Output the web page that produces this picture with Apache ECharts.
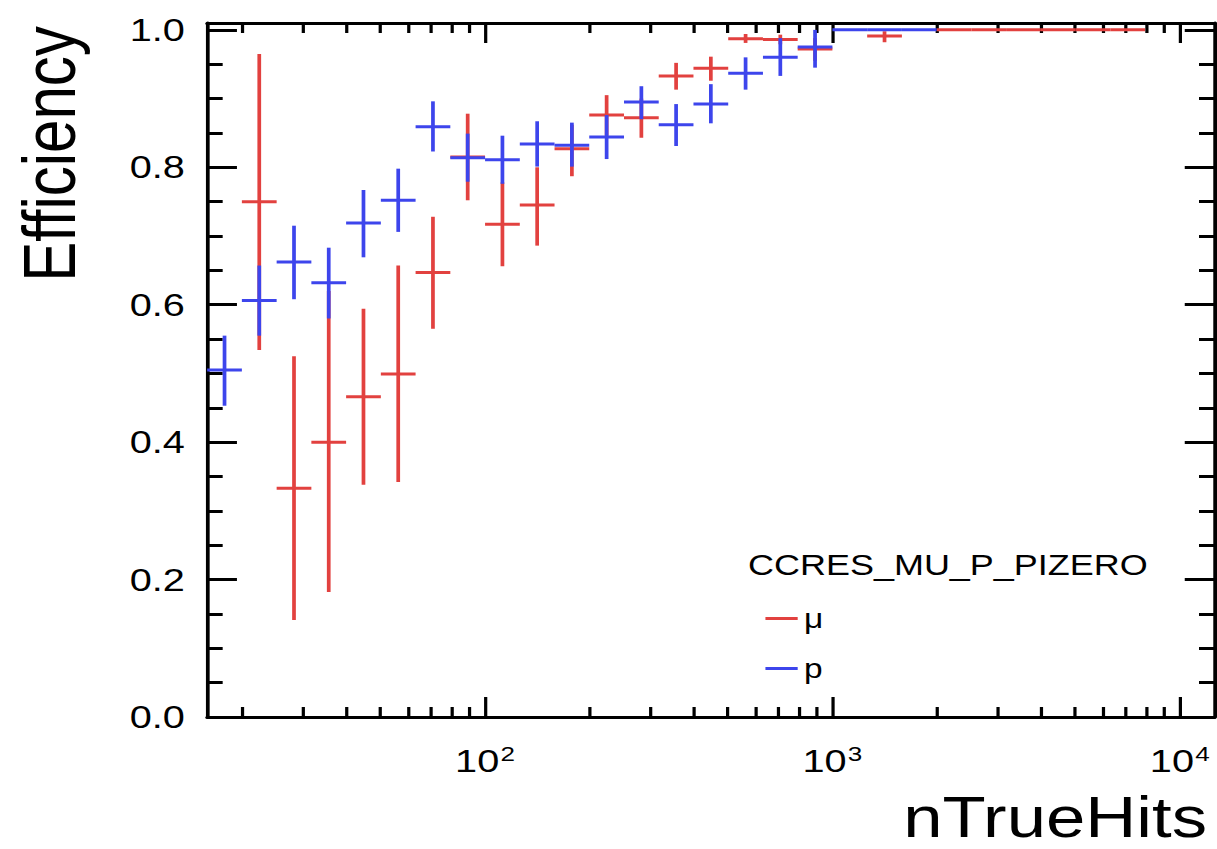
<!DOCTYPE html>
<html>
<head>
<meta charset="utf-8">
<script src="https://cdn.jsdelivr.net/npm/echarts@6/dist/echarts.min.js"></script>
<style>
  html, body { margin: 0; padding: 0; background: #ffffff; overflow: hidden; }
  #chart { width: 981px; height: 849px; transform: scaleX(1.24057); transform-origin: 0 0; }
</style>
</head>
<body>
<div id="chart"></div>
<script>
// ---- data ----
// log-spaced bin edges in nTrueHits
const binEdges = [15.85, 19.95, 25.12, 31.62, 39.81, 50.12, 63.10, 79.43, 100.0, 125.9, 158.5,
                  199.5, 251.2, 316.2, 398.1, 501.2, 631.0, 794.3, 1000, 1259, 1585, 1995, 2512,
                  3162, 3981, 5012, 6310, 7943];
// muon efficiency per bin, with lower / upper error bar ends
const muEff = [null, 0.750, 0.333, 0.400, 0.466, 0.499, 0.647, 0.815, 0.717, 0.745, 0.827, 0.876, 0.872,
               0.933, 0.944, 0.987, 0.986, 0.972, null, 0.991, null, 1.0, 1.0, 1.0, 1.0, 1.0, 1.0];
const muLow = [null, 0.534, 0.141, 0.182, 0.338, 0.342, 0.565, 0.752, 0.656, 0.686, 0.787, 0.846, 0.843,
               0.913, 0.926, 0.981, 0.979, 0.955, null, 0.982, null, 1.0, 1.0, 1.0, 1.0, 1.0, 1.0];
const muHigh = [null, 0.965, 0.525, 0.620, 0.594, 0.657, 0.728, 0.878, 0.778, 0.800, 0.862, 0.905, 0.900,
                0.952, 0.961, 0.994, 0.993, 0.988, null, 0.998, null, 1.0, 1.0, 1.0, 1.0, 1.0, 1.0];
// proton efficiency per bin
const pEff = [0.505, 0.606, 0.662, 0.632, 0.719, 0.752, 0.859, 0.814, 0.811, 0.834, 0.832, 0.844, 0.895,
              0.862, 0.892, 0.937, 0.960, 0.975, 1.0, 1.0, 1.0, null, null, null, null, null, null];
const pLow = [0.453, 0.555, 0.608, 0.580, 0.669, 0.706, 0.823, 0.779, 0.776, 0.801, 0.801, 0.812, 0.870,
              0.831, 0.864, 0.913, 0.933, 0.945, 1.0, 1.0, 1.0, null, null, null, null, null, null];
const pHigh = [0.555, 0.657, 0.715, 0.683, 0.767, 0.798, 0.896, 0.849, 0.846, 0.867, 0.865, 0.876, 0.918,
               0.892, 0.921, 0.960, 0.988, 1.0, 1.0, 1.0, 1.0, null, null, null, null, null, null];
// axis ticks
const xMajorTicks = [100, 1000, 10000];
const xMinorTicks = [20, 30, 40, 50, 60, 70, 80, 90, 200, 300, 400, 500, 600, 700, 800, 900,
                     2000, 3000, 4000, 5000, 6000, 7000, 8000, 9000];
const yMajorTicks = [0, 0.2, 0.4, 0.6, 0.8, 1.0];
const yMinorTicks = [0.05, 0.1, 0.15, 0.25, 0.3, 0.35, 0.45, 0.5, 0.55, 0.65, 0.7, 0.75, 0.85, 0.9, 0.95];
const seriesNames = ['μ', 'p'];
const legendTitle = 'CCRES_MU_P_PIZERO';
const xTitle = 'nTrueHits';
const yTitle = 'Efficiency';

const X_MIN = 15.85, X_MAX = 12589, Y_MIN = 0, Y_MAX = 1.01;
const RED = '#e2413f', BLUE = '#3d45ec';
const FONT = 'Liberation Sans, Arial, Helvetica, sans-serif';

function buildData(eff, lo, hi) {
  const out = [];
  for (let i = 0; i < eff.length; i++) {
    if (eff[i] === null) continue;
    out.push([binEdges[i], binEdges[i + 1], eff[i], lo[i], hi[i]]);
  }
  return out;
}

function makeRender(color) {
  return function (params, api) {
    const xlo = api.value(0), xhi = api.value(1);
    const y = api.value(2), ylo = api.value(3), yhi = api.value(4);
    const xc = Math.sqrt(xlo * xhi);
    const pL = api.coord([xlo, y]), pR = api.coord([xhi, y]);
    const pB = api.coord([xc, ylo]), pT = api.coord([xc, yhi]);
    return {
      type: 'group',
      children: [
        { type: 'line', shape: { x1: pL[0], y1: pL[1], x2: pR[0], y2: pR[1] },
          style: { stroke: color, lineWidth: 3 } },
        { type: 'line', shape: { x1: pB[0], y1: pB[1], x2: pT[0], y2: pT[1] },
          style: { stroke: color, lineWidth: 3 } }
      ]
    };
  };
}

const gridBox = { left: 167, right: 2, top: 23, bottom: 132 };
const axisLineStyle = { color: '#000', width: 3 };

function xAxisDef(gridIndex, position, ticks, len, withLine, withLabel) {
  return {
    type: 'log', logBase: 10, gridIndex, position, min: X_MIN, max: X_MAX,
    axisLine: { show: withLine, onZero: false, lineStyle: axisLineStyle },
    axisTick: { show: true, inside: true, length: len, customValues: ticks,
                lineStyle: { color: '#000', width: 2.6 } },
    axisLabel: withLabel ? {
      show: true, customValues: ticks, margin: 26,
      formatter: function (v) { return '{b|10}{s|' + Math.round(Math.log10(v)) + '}'; },
      rich: {
        b: { fontSize: 32, fontFamily: FONT, color: '#000', lineHeight: 34, verticalAlign: 'bottom' },
        s: { fontSize: 21, fontFamily: FONT, color: '#000', lineHeight: 34, verticalAlign: 'top', padding: [0, 0, 0, 1] }
      }
    } : { show: false },
    splitLine: { show: false }, minorTick: { show: false }, minorSplitLine: { show: false }
  };
}
function yAxisDef(gridIndex, position, ticks, len, withLine, withLabel) {
  return {
    type: 'value', gridIndex, position, min: Y_MIN, max: Y_MAX,
    axisLine: { show: withLine, onZero: false, lineStyle: axisLineStyle },
    axisTick: { show: true, inside: true, length: len, customValues: ticks,
                lineStyle: { color: '#000', width: 3 } },
    axisLabel: withLabel ? {
      show: true, customValues: ticks, margin: 18,
      fontSize: 32, fontFamily: FONT, color: '#000',
      formatter: function (v) { return v.toFixed(1); }
    } : { show: false },
    splitLine: { show: false }
  };
}

const chart = echarts.init(document.getElementById('chart'), null, { renderer: 'svg' });
chart.setOption({
  animation: false,
  backgroundColor: '#ffffff',
  grid: [Object.assign({}, gridBox), Object.assign({}, gridBox)],
  xAxis: [
    xAxisDef(0, 'bottom', xMajorTicks, 20, true, true),
    xAxisDef(0, 'top', xMajorTicks, 20, true, false),
    xAxisDef(1, 'bottom', xMinorTicks, 10, false, false),
    xAxisDef(1, 'top', xMinorTicks, 10, false, false)
  ],
  yAxis: [
    yAxisDef(0, 'left', yMajorTicks, 24, true, true),
    yAxisDef(0, 'right', yMajorTicks, 24, true, false),
    yAxisDef(1, 'left', yMinorTicks, 12.5, false, false),
    yAxisDef(1, 'right', yMinorTicks, 12.5, false, false)
  ],
  legend: {
    data: seriesNames, orient: 'vertical', left: 612, top: 600,
    itemWidth: 26, itemHeight: 3, itemGap: 23, icon: 'rect', selectedMode: false,
    textStyle: { fontSize: 27, fontFamily: FONT, color: '#000' }
  },
  graphic: [
    { type: 'text', x: 603, y: 565,
      style: { text: legendTitle, font: '29px ' + FONT, fill: '#000', align: 'left', verticalAlign: 'middle' } },
    { type: 'text', x: 973, y: 846,
      style: { text: xTitle, font: '57px ' + FONT, fill: '#000', align: 'right', verticalAlign: 'bottom' } },
    { type: 'text', x: 40, y: 154, rotation: Math.PI / 2,
      style: { text: yTitle, font: '60px ' + FONT, fill: '#000', align: 'center', verticalAlign: 'middle' } }
  ],
  series: [
    { name: seriesNames[0], type: 'custom', xAxisIndex: 0, yAxisIndex: 0, color: RED,
      renderItem: makeRender(RED), data: buildData(muEff, muLow, muHigh),
      encode: { x: [0, 1], y: [2, 3, 4] }, clip: false },
    { name: seriesNames[1], type: 'custom', xAxisIndex: 0, yAxisIndex: 0, color: BLUE,
      renderItem: makeRender(BLUE), data: buildData(pEff, pLow, pHigh),
      encode: { x: [0, 1], y: [2, 3, 4] }, clip: false }
  ]
});
</script>
</body>
</html>
